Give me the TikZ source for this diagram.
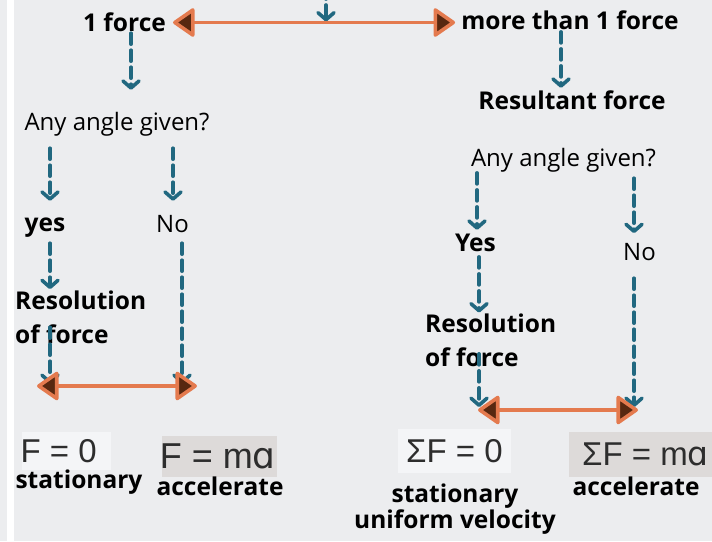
\documentclass[tikz,border=0pt]{standalone}
\usepackage{fontspec}
\setmainfont{Open Sans}
\newfontfamily\eqfont{Liberation Sans}
\newfontfamily\alphafont{DejaVu Sans}
\usepackage{tikz}
\usetikzlibrary{arrows.meta}
\definecolor{bgpage}{RGB}{236,237,239}
\definecolor{flowteal}{RGB}{33,104,128}
\definecolor{linkorange}{RGB}{228,122,78}
\definecolor{tipbrown}{RGB}{88,40,16}
\definecolor{boxlight}{RGB}{244,245,247}
\definecolor{boxdark}{RGB}{221,218,217}
\definecolor{eqtext}{RGB}{45,45,45}
\begin{document}
\begin{tikzpicture}[x=1pt,y=-1pt,
                  txt/.style={inner sep=1pt,text height=17pt,text depth=0pt,font=\fontsize{24}{28}\selectfont},
                  btxt/.style={txt,font=\fontsize{24.5}{28}\selectfont\bfseries},
                  para/.style={inner sep=1pt,align=left,font=\fontsize{24.5}{34}\selectfont\bfseries},
                  eq/.style={inner ysep=0pt,text=eqtext,font=\eqfont\fontsize{33}{36}\selectfont},
                  dasharr/.style={draw=flowteal,line width=3.6pt,dash pattern=on 11pt off 6pt,line cap=round,
                               -{Straight Barb[length=7pt,width=16pt,round]}},
                  link/.style={draw=linkorange,line width=3.6pt,
                               {Triangle[length=23pt,width=31pt,fill=tipbrown,line width=3.6pt,round]}-{Triangle[length=23pt,width=31pt,fill=tipbrown,line width=3.6pt,round]}}
                ]
                \useasboundingbox (0,0) rectangle (712,541);
                \clip (0,0) rectangle (712,541);
                \fill[bgpage] (0,0) rectangle (712,541);
                \fill[white] (7,0) rectangle (14,541);
                
                % labels
                \node[btxt,anchor=base] (one) at (124.5,31) {1 force};
                \node[btxt,anchor=base] (more) at (570,29.3) {more than 1 force};
                \node[btxt,anchor=base] (result) at (572,109.3) {Resultant force};
                \node[txt,anchor=base] (angA) at (117,130.7) {Any angle given?};
                \node[txt,anchor=base] (angB) at (563.5,166.7) {Any angle given?};
                \node[btxt,anchor=base] (yesA) at (45,231.7) {yes};
                \node[txt,anchor=base] (noA) at (172.5,232.3) {No};
                \node[btxt,anchor=base] (yesB) at (475.5,251.7) {Yes};
                \node[txt,anchor=base] (noB) at (639.5,260) {No};
                \node[para,anchor=north west] (resA) at (14,290.1) {Resolution\\of force};
                \node[para,anchor=north west] (resB) at (424,312.5) {Resolution\\of force};
                
                % equations
                \begin{scope}
                \clip (22,432) rectangle (111,470);
                \node[eq,fill=boxlight,anchor=east,inner xsep=14pt,minimum height=38pt] (zeroA) at (111,451) {ΣF = 0};
                \end{scope}
                \begin{scope}
                \clip (162,436) rectangle (277,477);
                \node[eq,fill=boxdark,anchor=east,inner xsep=1pt,minimum height=41pt,font=\eqfont\fontsize{36}{38}\selectfont] (maA) at (277,456.5) {ΣF = m{\alphafont ɑ}};
                \end{scope}
                \node[eq,fill=boxlight,minimum width=113pt,minimum height=44pt] (zeroB) at (454.5,451) {ΣF = 0};
                \node[eq,fill=boxdark,anchor=west,inner xsep=13pt,minimum height=45pt] (maB) at (569,454.5) {ΣF = m{\alphafont ɑ}};
                
                \node[btxt,anchor=base] (statA) at (79,488.3) {stationary};
                \node[btxt,anchor=base] (accA) at (220,495) {accelerate};
                \node[para,align=center,anchor=north,font=\fontsize{24.5}{26.5}\selectfont\bfseries] (statB) at (455,482.5) {stationary\\uniform velocity};
                \node[btxt,anchor=base] (accB) at (636,495) {accelerate};
                
                % columns and link ends
                \coordinate (topin) at (326,-12);
                \coordinate (colA1) at (131,0);
                \coordinate (colA2) at (50,0);
                \coordinate (colA3) at (173,0);
                \coordinate (colA4) at (182,0);
                \coordinate (colB1) at (561,0);
                \coordinate (colB2) at (477,0);
                \coordinate (colB3) at (634,0);
                \coordinate (colB4) at (479,0);
                \coordinate (lA) at (37,386);
                \coordinate (rA) at (197,386);
                \coordinate (lB) at (478,410);
                \coordinate (rB) at (638,410);
                
                \draw[dasharr,shorten >=1pt] (topin) -- (topin |- one.east);
                \draw[dasharr,shorten <=1pt,shorten >=22.7pt] (colA1 |- one.south) -- (colA1 |- angA.north);
                \draw[dasharr,shorten <=16.3pt,shorten >=12.7pt] (colA2 |- angA.south) -- (colA2 |- yesA.north);
                \draw[dasharr,shorten <=16.3pt,shorten >=13.3pt] (colA3 |- angA.south) -- (colA3 |- noA.north);
                \draw[dasharr,shorten <=10.3pt,shorten >=1pt] (colA2 |- yesA.south) -- (colA2 |- resA.north);
                \draw[dasharr,shorten <=9.5pt,shorten >=2pt] (colA2 |- resA.center) -- (colA2 |- lA);
                \draw[dasharr,shorten <=9.7pt,shorten >=2pt] (colA4 |- noA.south) -- (colA4 |- rA);
                \draw[dasharr,shorten <=1.4pt,shorten >=3.3pt] (colB1 |- more.south) -- (colB1 |- result.north);
                \draw[dasharr,shorten <=5pt,shorten >=3.7pt] (colB2 |- angB.south) -- (colB2 |- yesB.north);
                \draw[dasharr,shorten <=10.3pt,shorten >=8.7pt] (colB3 |- angB.south) -- (colB3 |- noB.north);
                \draw[dasharr,shorten <=4pt] (colB4 |- yesB.south) -- (colB4 |- resB.north);
                \draw[dasharr,shorten <=13.7pt,shorten >=3pt] (colB4 |- resB.center) -- (colB4 |- lB);
                \draw[dasharr,shorten <=17pt,shorten >=3pt] (colB3 |- noB.south) -- (colB3 |- rB);
                
                \draw[link,shorten <=6pt,shorten >=5pt] (one.east) -- (one.east -| more.west);
                \draw[link] (lA) -- (rA);
                \draw[link] (lB) -- (rB);
                \end{tikzpicture}
\end{document}
